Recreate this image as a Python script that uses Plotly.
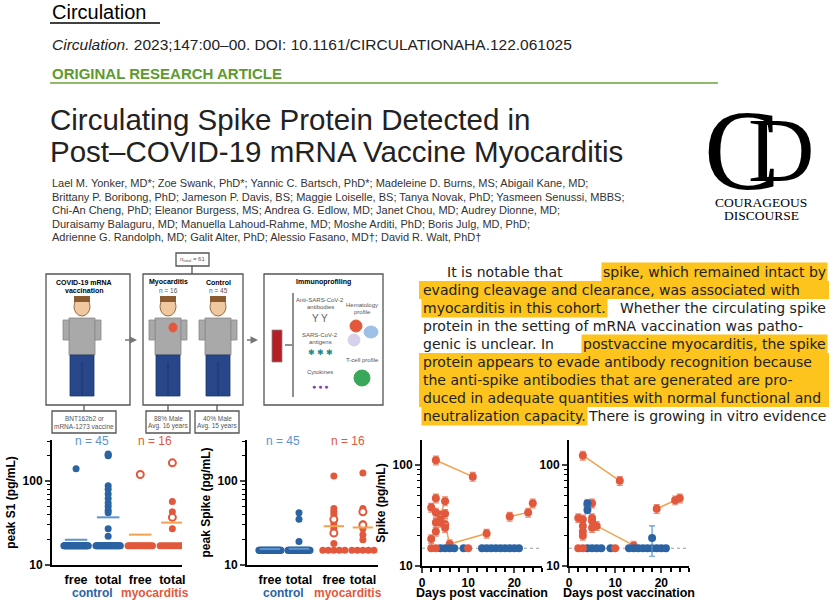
import plotly.graph_objects as go

W, H = 839, 600
def X(px): return px / W
def Y(py): return 1 - py / H

BLUE = "#2b63a3"
ORANGE = "#e2583c"
LBLUE = "#5d93cf"
LORANGE = "#f2a24e"
YEL = "#fcc41c"

# ---------------- data ----------------
cats = ["free", "total", "free", "total"]
groups = ["control", "myocarditis"]

# Panel A: peak S1 (pg/mL)
s1_ctrl_free = [17]*44 + [140]
s1_ctrl_total = [17]*32 + [22, 27, 42, 45, 50, 55, 62, 70, 80, 88, 200, 210, 205]
s1_myo_free = [17]*15
s1_myo_free_open = [120]
s1_myo_total = [17]*11 + [27, 43, 57]
s1_myo_total_open = [37, 165]
s1_means = [20, 37, 23, 32]

# Panel B: peak Spike (pg/mL)
sp_ctrl_free = [15]*45
sp_ctrl_total = [15]*42 + [19, 35, 42]
sp_myo_free = [15]*5 + [18, 27, 30, 33, 35, 40, 43, 47, 115]
sp_myo_free_open = [24, 35]
sp_myo_total = [15]*5 + [20, 23, 27, 29, 30, 31, 44, 47, 125]
sp_myo_total_open = [30, 43]
sp_means = [15.5, 15.6, 29, 28]

# Panel C/D: Spike over days post vaccination
lod = 15
c_lines = [([3, 11], [112, 77]), ([5, 6, 14], [26, 16.5, 21]), ([19, 23, 24], [31, 34, 42]), ([4, 5], [32, 44])]
c_pts_x = [2, 2, 3, 3, 3, 3, 4, 4, 5, 5]
c_pts_y = [18.5, 38, 47, 34, 27, 22, 27, 29, 33, 24]
c_orange_lod_x = [2, 3, 10]
c_blue_lod_x = [4, 5, 6, 7, 9, 13, 14, 15, 16, 17, 18, 19, 20, 21]

d_lines = [([3, 11], [125, 70]), ([6, 14], [25, 16]), ([19, 23, 24], [37, 45, 47])]
d_pts_x = [2, 3, 3, 3, 3, 4, 5, 5, 5, 5]
d_pts_y = [30, 29, 25, 22, 20, 40, 42, 30, 28, 24]
d_blue_x = [4, 4, 18]
d_blue_y = [42, 36, 19]
d_blue_err_plus = [3, 3, 6]
d_blue_err_minus = [3, 3, 6.5]
d_orange_lod_x = [2, 3, 10]
d_blue_lod_x = [4, 5, 6, 7, 9, 13, 14, 15, 16, 17, 18, 19, 20, 21]

fig = go.Figure()

def swarm(vals, center):
    xs = []
    counts = {}
    for v in vals:
        counts[v] = counts.get(v, 0) + 1
    seen = {}
    for v in vals:
        n = counts[v]
        i = seen.get(v, 0); seen[v] = i + 1
        if n == 1:
            xs.append(center)
        else:
            sp = min(0.2, 0.76 / (n - 1))
            xs.append(center + (i - (n - 1) / 2) * sp)
    return xs

def dots(xa, ya, vals, center, color, open_=False):
    fig.add_trace(go.Scatter(
        x=swarm(vals, center), y=vals, mode="markers", xaxis=xa, yaxis=ya,
        marker=dict(size=7, color="white" if open_ else color,
                    line=dict(color=color, width=2 if open_ else 0)),
        showlegend=False, hoverinfo="skip"))

def meanline(xa, ya, center, val, color):
    fig.add_trace(go.Scatter(x=[center - 0.35, center + 0.35], y=[val, val], mode="lines",
                             xaxis=xa, yaxis=ya, line=dict(color=color, width=2),
                             showlegend=False, hoverinfo="skip"))

posA = [0, 1, 2, 3]
posB = [0, 1, 2.2, 3.2]
for xa, ya, pos, data, means in [
    ("x", "y", posA, [(s1_ctrl_free, []), (s1_ctrl_total, []), (s1_myo_free, s1_myo_free_open), (s1_myo_total, s1_myo_total_open)], s1_means),
    ("x2", "y2", posB, [(sp_ctrl_free, []), (sp_ctrl_total, []), (sp_myo_free, sp_myo_free_open), (sp_myo_total, sp_myo_total_open)], sp_means),
]:
    for k, (filled, opn) in enumerate(data):
        col = BLUE if k < 2 else ORANGE
        dots(xa, ya, filled, pos[k], col)
        if opn:
            dots(xa, ya, opn, pos[k], col, open_=True)
        meanline(xa, ya, pos[k], means[k], LBLUE if k < 2 else LORANGE)

def timecourse(xa, ya, lines, px, py, olod, blod):
    fig.add_trace(go.Scatter(x=[0, 26], y=[lod, lod], mode="lines", xaxis=xa, yaxis=ya,
                             line=dict(color="#9aa0a6", width=1.2, dash="dot"), showlegend=False, hoverinfo="skip"))
    for lx, ly in lines:
        fig.add_trace(go.Scatter(x=lx, y=ly, mode="lines+markers", xaxis=xa, yaxis=ya,
                                 line=dict(color=LORANGE, width=1.5),
                                 marker=dict(size=8, color=ORANGE),
                                 error_y=dict(type="percent", value=10, color="#e88a74", thickness=1.2, width=3),
                                 showlegend=False, hoverinfo="skip"))
    fig.add_trace(go.Scatter(x=px, y=py, mode="markers", xaxis=xa, yaxis=ya,
                             marker=dict(size=8, color=ORANGE),
                             error_y=dict(type="percent", value=10, color="#e88a74", thickness=1.2, width=3),
                             showlegend=False, hoverinfo="skip"))
    fig.add_trace(go.Scatter(x=blod, y=[lod]*len(blod), mode="markers", xaxis=xa, yaxis=ya,
                             marker=dict(size=8, color=BLUE), showlegend=False, hoverinfo="skip"))
    fig.add_trace(go.Scatter(x=olod, y=[lod]*len(olod), mode="markers", xaxis=xa, yaxis=ya,
                             marker=dict(size=8, color=ORANGE), showlegend=False, hoverinfo="skip"))

timecourse("x3", "y3", c_lines, c_pts_x, c_pts_y, c_orange_lod_x, c_blue_lod_x)
timecourse("x4", "y4", d_lines, d_pts_x, d_pts_y, d_orange_lod_x, d_blue_lod_x)
fig.add_trace(go.Scatter(x=d_blue_x, y=d_blue_y, mode="markers", xaxis="x4", yaxis="y4",
                         marker=dict(size=8, color=BLUE),
                         error_y=dict(type="data", symmetric=False, array=d_blue_err_plus,
                                      arrayminus=d_blue_err_minus, color=LBLUE, thickness=1.2, width=3),
                         showlegend=False, hoverinfo="skip"))

axfont = dict(family="Liberation Sans", size=12, color="black")
def yax(top_px, bot_px, rng):
    return dict(type="log", range=rng, domain=[Y(bot_px), Y(top_px)], tickvals=[10, 100],
                ticktext=["<b>10</b>", "<b>100</b>"], showline=True, linecolor="black", linewidth=2,
                ticks="outside", ticklen=5, tickwidth=2, showgrid=False, zeroline=False, tickfont=axfont,
                minor=dict(ticks="outside", ticklen=3, tickwidth=1, tickcolor="black", dtick="D1", showgrid=False))

def xcat(x0, x1, rng, pos, anchor):
    return dict(domain=[X(x0), X(x1)], range=rng, tickvals=pos,
                ticktext=["<b>%s</b>" % c for c in cats], showline=True, linecolor="black", linewidth=2,
                ticks="", showgrid=False, zeroline=False, anchor=anchor, ticklabelstandoff=2,
                tickfont=dict(family="Liberation Sans", size=12.5, color="black"))

def xday(x0, x1, anchor):
    return dict(domain=[X(x0), X(x1)], range=[0, 26], tickvals=[0, 10, 20], ticktext=["<b>0</b>", "<b>10</b>", "<b>20</b>"],
                showline=True, linecolor="black", linewidth=2, ticks="outside", ticklen=5, tickwidth=2,
                showgrid=False, zeroline=False, anchor=anchor, tickfont=axfont, ticklabelstandoff=0,
                minor=dict(ticks="outside", ticklen=4, tickwidth=1.5, tickcolor="black", dtick=2))

lay = dict(
    width=W, height=H, margin=dict(l=0, r=0, t=0, b=0, autoexpand=False), paper_bgcolor="white", plot_bgcolor="white",
    font=dict(family="Liberation Sans"),
    xaxis=xcat(52, 182, [-0.75, 3.3], posA, "y"),
    yaxis=yax(440, 565, [1, 2.49]) | dict(anchor="x", title=dict(text="<b>peak S1 (pg/mL)</b>", font=dict(size=12, color="black"), standoff=4)),
    xaxis2=xcat(247, 378, [-0.79, 3.72], posB, "y2"),
    yaxis2=yax(440, 565, [1, 2.49]) | dict(anchor="x2", title=dict(text="<b>peak Spike (pg/mL)</b>", font=dict(size=12, color="black"), standoff=4)),
    xaxis3=xday(422, 542, "y3"),
    yaxis3=yax(440, 566, [1, 2.25]) | dict(anchor="x3", title=dict(text="<b>Spike (pg/mL)</b>", font=dict(size=12, color="black"), standoff=4)),
    xaxis4=xday(569, 689, "y4"),
    yaxis4=yax(440, 566, [1, 2.25]) | dict(anchor="x4"),
)
fig.update_layout(**lay)

ann = []
shapes = []
def txt(px, py, s, size=12, color="black", family="Liberation Sans", xanchor="left", yanchor="middle", **kw):
    ann.append(dict(x=X(px), y=Y(py), xref="paper", yref="paper", text=s, showarrow=False,
                    xanchor=xanchor, yanchor=yanchor, font=dict(size=size, color=color, family=family), **kw))
def rect(x0, y0, x1, y1, line="#555", fill="rgba(0,0,0,0)", lw=1.3):
    shapes.append(dict(type="rect", xref="paper", yref="paper", x0=X(x0), x1=X(x1), y0=Y(y1), y1=Y(y0),
                       line=dict(color=line, width=lw), fillcolor=fill, layer="below"))
def circ(x0, y0, x1, y1, fill, line=None):
    shapes.append(dict(type="circle", xref="paper", yref="paper", x0=X(x0), x1=X(x1), y0=Y(y1), y1=Y(y0),
                       line=dict(color=line or fill, width=1), fillcolor=fill, layer="below"))
def seg(x0, y0, x1, y1, color="#555", w=1.3):
    shapes.append(dict(type="line", xref="paper", yref="paper", x0=X(x0), x1=X(x1), y0=Y(y0), y1=Y(y1),
                       line=dict(color=color, width=w)))

# header
txt(50, 12, "Circulation", size=20)
seg(50, 23, 160, 23, "black", 1.3)
txt(50, 45, "<i>Circulation.</i> 2023;147:00–00. DOI: 10.1161/CIRCULATIONAHA.122.061025", size=15.5, color="#222")
txt(50, 74, "<b>ORIGINAL RESEARCH ARTICLE</b>", size=15, color="#5e9a2e")
seg(50, 83, 718, 83, "#6aa337", 1.5)
txt(48, 120, "Circulating Spike Protein Detected in", size=29.5, color="#222")
txt(48, 151, "Post–COVID-19 mRNA Vaccine Myocarditis", size=29.5, color="#222")
authors = [
    "Lael M. Yonker, MD*; Zoe Swank, PhD*; Yannic C. Bartsch, PhD*; Madeleine D. Burns, MS; Abigail Kane, MD;",
    "Brittany P. Boribong, PhD; Jameson P. Davis, BS; Maggie Loiselle, BS; Tanya Novak, PhD; Yasmeen Senussi, MBBS;",
    "Chi-An Cheng, PhD; Eleanor Burgess, MS; Andrea G. Edlow, MD; Janet Chou, MD; Audrey Dionne, MD;",
    "Duraisamy Balaguru, MD; Manuella Lahoud-Rahme, MD; Moshe Arditi, PhD; Boris Julg, MD, PhD;",
    "Adrienne G. Randolph, MD; Galit Alter, PhD; Alessio Fasano, MD†; David R. Walt, PhD†",
]
for i, a in enumerate(authors):
    txt(50, 183 + i * 13.5, a, size=11, color="#333")

# logo
txt(742, 150, "C", size=114, family="Liberation Serif", xanchor="center")
txt(781, 150, "D", size=92, family="Liberation Serif", xanchor="center")
txt(761, 202, "COURAGEOUS", size=13.5, family="Liberation Serif", xanchor="center")
txt(761, 215, "DISCOURSE", size=13.5, family="Liberation Serif", xanchor="center")

# highlighted paragraph: (left part, left highlighted?, right part, right highlighted?)
para = [
    ("It is notable that", False, "spike, which remained intact by", True),
    ("evading cleavage and clearance, was associated with", True, "", False),
    ("myocarditis in this cohort.", True, "Whether the circulating spike", False),
    ("protein in the setting of mRNA vaccination was patho-", False, "", False),
    ("genic is unclear. In", False, "postvaccine myocarditis, the spike", True),
    ("protein appears to evade antibody recognition because", True, "", False),
    ("the anti-spike antibodies that are generated are pro-", True, "", False),
    ("duced in adequate quantities with normal functional and", True, "", False),
    ("neutralization capacity.", True, "There is growing in vitro evidence", False),
]
for i, (lt, lh, rt, rh) in enumerate(para):
    yy = 272 + i * 18
    full = lh and not rt
    if full:
        shapes.append(dict(type="rect", xref="paper", yref="paper", x0=X(419), x1=X(829),
                           y0=Y(yy + 9), y1=Y(yy - 9), line=dict(width=0), fillcolor=YEL, layer="below"))
    lx = 445 if i == 0 else 421
    txt(lx, yy, lt, size=14, color="#222", family="DejaVu Sans",
        bgcolor=YEL if (lh and not full) else None, borderpad=1)
    if rt:
        txt(828, yy, rt, size=14, color="#222", family="DejaVu Sans", xanchor="right",
            bgcolor=YEL if rh else None, borderpad=1)

# illustration
rect(46, 274, 130, 405)
rect(143, 274, 243, 405)
rect(264, 274, 383, 405)
rect(176, 253, 209, 266)
txt(192, 259, "n<sub>total</sub> = 61", size=6, color="#555", xanchor="center")
seg(192, 266, 192, 274)
rect(52, 411, 116, 433); seg(84, 405, 84, 411)
rect(146, 411, 190, 433); seg(168, 405, 168, 411)
rect(195, 411, 239, 433); seg(217, 405, 217, 411)
txt(84, 418, "BNT162b2 or", size=6.5, color="#555", xanchor="center")
txt(84, 426, "mRNA-1273 vaccine", size=6.5, color="#555", xanchor="center")
txt(168, 418, "88% Male", size=6.5, color="#555", xanchor="center")
txt(168, 426, "Avg. 16 years", size=6.5, color="#555", xanchor="center")
txt(217, 418, "40% Male", size=6.5, color="#555", xanchor="center")
txt(217, 426, "Avg. 15 years", size=6.5, color="#555", xanchor="center")
for x0, x1 in [(122, 137), (244, 258)]:
    ann.append(dict(x=X(x1), y=Y(340), ax=-(x1 - x0), ay=0, xref="paper", yref="paper",
                    showarrow=True, arrowhead=2, arrowsize=1, arrowwidth=1.5, arrowcolor="#777", text=" "))
txt(84, 282, "<b>COVID-19 mRNA</b>", size=7, xanchor="center")
txt(84, 290, "<b>vaccination</b>", size=7, xanchor="center")
txt(168, 282, "<b>Myocarditis</b>", size=7, xanchor="center")
txt(168, 290, "n = 16", size=6.5, color="#555", xanchor="center")
txt(218, 282, "<b>Control</b>", size=7, xanchor="center")
txt(218, 290, "n = 45", size=6.5, color="#555", xanchor="center")
for cx, heart in [(82, False), (168, True), (218, False)]:
    circ(cx - 8, 297, cx + 8, 316, "#f0c8a0", "#9b6a3c")
    shapes.append(dict(type="rect", xref="paper", yref="paper", x0=X(cx - 8), x1=X(cx + 8), y0=Y(302), y1=Y(296),
                       fillcolor="#8a5a30", line=dict(width=0), layer="below"))
    rect(cx - 13, 318, cx + 13, 355, line="#888", fill="#a9a9a9", lw=0.8)
    rect(cx - 19, 320, cx - 13, 340, line="#888", fill="#a9a9a9", lw=0.8)
    rect(cx + 13, 320, cx + 19, 340, line="#888", fill="#a9a9a9", lw=0.8)
    rect(cx - 12, 355, cx + 12, 396, line="#1c3766", fill="#27478a", lw=0.8)
    seg(cx, 362, cx, 396, "#1c3766", 1)
    if heart:
        circ(cx + 1, 323, cx + 9, 332, "#e2583c")
txt(323, 282, "<b>Immunoprofiling</b>", size=7, xanchor="center")
rect(272, 330, 282, 362, line="#888", fill="#b41e26", lw=0.8)
seg(285, 345, 292, 345)
seg(293, 293, 293, 397)
txt(320, 300, "Anti-SARS-CoV-2", size=6, color="#555", xanchor="center")
txt(320, 307, "antibodies", size=6, color="#555", xanchor="center")
txt(320, 335, "SARS-CoV-2", size=6, color="#555", xanchor="center")
txt(320, 342, "antigens", size=6, color="#555", xanchor="center")
txt(320, 372, "Cytokines", size=6, color="#555", xanchor="center")
txt(362, 305, "Hematology", size=6, color="#555", xanchor="center")
txt(362, 312, "profile", size=6, color="#555", xanchor="center")
txt(362, 360, "T-cell profile", size=6, color="#555", xanchor="center")
circ(350, 320, 362, 332, "#e2583c")
circ(364, 326, 378, 338, "#9fc0e6")
circ(348, 334, 360, 346, "#d6d0ea")
circ(354, 370, 370, 386, "#3aa85a")
txt(320, 318, "Y Y", size=10, color="#666", xanchor="center")
txt(320, 352, "✱ ✱ ✱", size=8, color="#1a8a8a", xanchor="center")
txt(320, 386, "● ● ●", size=7, color="#7a3fa0", xanchor="center")

# chart labels
txt(92, 441, "n = 45", size=12, color=LBLUE, xanchor="center")
txt(155, 441, "n = 16", size=12, color=ORANGE, xanchor="center")
txt(283, 441, "n = 45", size=12, color=LBLUE, xanchor="center")
txt(348, 441, "n = 16", size=12, color=ORANGE, xanchor="center")
txt(92, 593, "<b>control</b>", size=12, color=BLUE, xanchor="center")
txt(155, 593, "<b>myocarditis</b>", size=12, color=ORANGE, xanchor="center")
txt(283, 593, "<b>control</b>", size=12, color=BLUE, xanchor="center")
txt(348, 593, "<b>myocarditis</b>", size=12, color=ORANGE, xanchor="center")
txt(482, 593, "<b>Days post vaccination</b>", size=12.5, xanchor="center")
txt(629, 593, "<b>Days post vaccination</b>", size=12.5, xanchor="center")

fig.update_layout(annotations=ann, shapes=shapes)
fig.write_html("out.html", config={"displayModeBar": False},
               post_script="document.body.style.margin='0';document.body.style.overflow='hidden';")
